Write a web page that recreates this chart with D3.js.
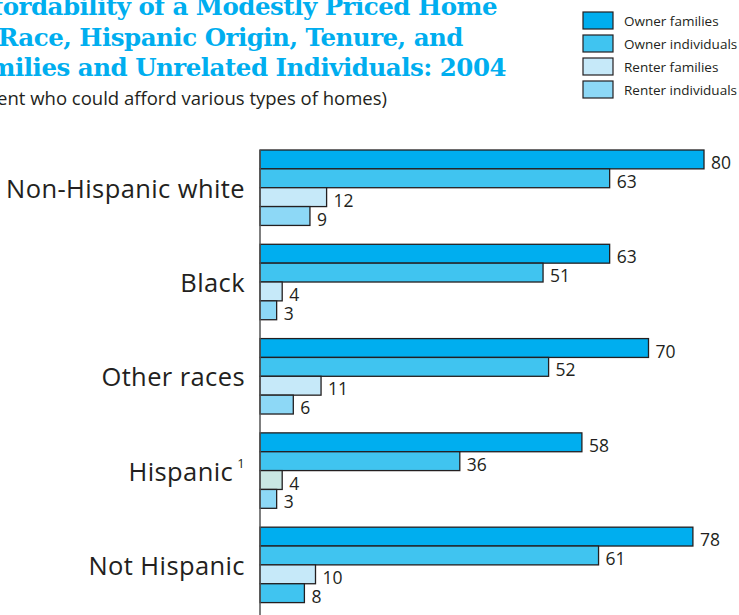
<!DOCTYPE html>
<html>
<head>
<meta charset="utf-8">
<script src="https://cdn.jsdelivr.net/npm/d3@7"></script>
<style>
  body { margin: 0; background: #fff; }
  svg { display: block; }
</style>
</head>
<body>
<svg id="chart" width="739" height="615"></svg>
<script>
// groups down the chart
const categories = ["Non-Hispanic white", "Black", "Other races", "Hispanic", "Not Hispanic"];
const series = ["Owner families", "Owner individuals", "Renter families", "Renter individuals"];

// percent who could afford a modestly priced home
const ownerFamilies     = [80, 63, 70, 58, 78];
const ownerIndividuals  = [63, 51, 52, 36, 61];
const renterFamilies    = [12, 4, 11, 4, 10];
const renterIndividuals = [9, 3, 6, 3, 8];

const titleLines = [
  "Affordability of a Modestly Priced Home",
  "by Race, Hispanic Origin, Tenure, and",
  "Families and Unrelated Individuals: 2004"
];
const subtitle = "(Percent who could afford various types of homes)";

const svg = d3.select("#chart");
const ink = "#231f20";

const color = d3.scaleOrdinal()
  .domain(series)
  .range(["#00aeef", "#40c4f0", "#c6e9f9", "#8dd8f6"]);

// a couple of bars in the original are filled a little differently
function fillFor(d) {
  if (d.cat === "Hispanic" && d.key === "Renter families") return "#c9e7e3";
  if (d.cat === "Not Hispanic" && d.key === "Renter individuals") return "#40c4f0";
  return color(d.key);
}

const rows = categories.map((c, i) => ({
  cat: c,
  values: [ownerFamilies[i], ownerIndividuals[i], renterFamilies[i], renterIndividuals[i]]
    .map((v, j) => ({ cat: c, key: series[j], value: v }))
}));

const x = d3.scaleLinear().domain([0, 80]).range([260, 704]);
const y0 = d3.scaleBand().domain(categories).range([150, 602.6]).paddingInner(0.2).paddingOuter(0);
const y1 = d3.scaleBand().domain(series).range([0, y0.bandwidth()]);

// title (the original page is cropped on the left)
svg.append("g")
  .selectAll("text").data(titleLines).join("text")
  .attr("x", (d, i) => [497, 463, 506][i])
  .attr("y", (d, i) => 15 + i * 30.5)
  .attr("text-anchor", "end")
  .attr("font-family", "DejaVu Serif")
  .attr("font-weight", "bold")
  .attr("font-size", 24.5)
  .attr("letter-spacing", -0.5)
  .attr("fill", "#00aeef")
  .text(d => d);

svg.append("text")
  .attr("x", 387).attr("y", 105)
  .attr("text-anchor", "end")
  .attr("font-family", "Open Sans")
  .attr("font-size", 18.5)
  .attr("fill", ink)
  .text(subtitle);

// legend
const legend = svg.append("g").attr("transform", "translate(583,12)");
const li = legend.selectAll("g").data(series).join("g")
  .attr("transform", (d, i) => `translate(0,${i * 23})`);
li.append("rect")
  .attr("width", 30).attr("height", 17)
  .attr("fill", d => color(d))
  .attr("stroke", ink).attr("stroke-width", 1.2);
li.append("text")
  .attr("x", 41).attr("y", 9)
  .attr("dominant-baseline", "central")
  .attr("font-family", "Open Sans")
  .attr("font-size", 13.5)
  .attr("fill", ink)
  .text(d => d);

// bars
const groups = svg.append("g").selectAll("g").data(rows).join("g")
  .attr("transform", d => `translate(0,${y0(d.cat)})`);

groups.selectAll("rect").data(d => d.values).join("rect")
  .attr("x", x(0))
  .attr("y", d => y1(d.key))
  .attr("width", d => x(d.value) - x(0))
  .attr("height", y1.bandwidth())
  .attr("fill", fillFor)
  .attr("stroke", ink)
  .attr("stroke-width", 1.3);

groups.selectAll("text.val").data(d => d.values).join("text")
  .attr("class", "val")
  .attr("x", d => x(d.value) + 7)
  .attr("y", d => y1(d.key) + y1.bandwidth() / 2 + 2.5)
  .attr("dominant-baseline", "central")
  .attr("font-family", "Open Sans")
  .attr("font-size", 17.5)
  .attr("fill", ink)
  .text(d => d.value);

// category labels
const catLabels = groups.append("text")
  .attr("x", 245)
  .attr("y", y0.bandwidth() / 2)
  .attr("text-anchor", "end")
  .attr("dominant-baseline", "central")
  .attr("font-family", "Open Sans")
  .attr("font-size", 25.5)
  .attr("letter-spacing", 0.4)
  .attr("fill", ink);
catLabels.append("tspan").text(d => d.cat);
catLabels.filter(d => d.cat === "Hispanic")
  .append("tspan")
  .attr("dx", 4).attr("dy", -8)
  .attr("font-size", 13)
  .text("1");

// axis line
svg.append("line")
  .attr("x1", x(0)).attr("x2", x(0))
  .attr("y1", 150).attr("y2", 615)
  .attr("stroke", "#555").attr("stroke-width", 1.5);
</script>
</body>
</html>
